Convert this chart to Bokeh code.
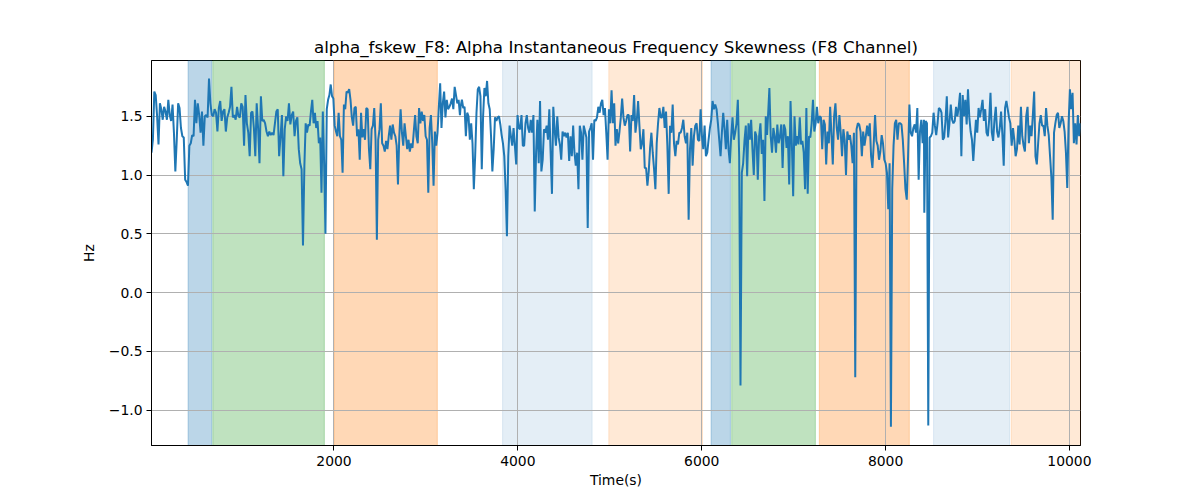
import numpy as np
from bokeh.plotting import figure
from bokeh.models import Range1d, FixedTicker, CustomJSTickFormatter, BoxAnnotation
from bokeh.embed import file_html
from bokeh.resources import INLINE

# ---- data ----
# time boundaries (s) of each stretch of samples
seg_t0 = [15, 1692, 3377, 5062, 6736, 8421]
seg_t1 = [1678, 3370, 5048, 6711, 8417, 10120]

vals_a = [1.19,1.30,1.71,1.68,1.50,1.26,1.61,1.56,1.47,1.58,1.54,1.47,1.64,1.51,1.46,1.60,1.36,1.03,1.30,1.61,1.57,1.40,1.33,1.32,0.96,0.94,0.91,
          1.25,1.27,1.34,1.33,1.64,1.44,1.61,1.51,1.36,1.54,1.25,1.50,1.51,1.49,1.82,1.61,1.51,
          1.50,1.56,1.53,1.37,1.57,1.63,1.46,1.54,1.56,1.37,1.49,1.53,1.58,1.75,1.49,1.51,1.47,1.58,1.50,1.49,1.61,1.58,1.25,1.68,1.44,1.36,1.16,1.53,1.54,1.40,1.16,1.61,1.40,1.10,1.67,1.46,1.47,1.44,1.37,1.33,1.37,1.34,1.36,1.34,1.44,1.54,1.56,1.16,1.33,1.51,0.99,1.39,1.50,1.46,1.61,1.43,1.51,1.54,1.33,1.46,1.49,1.22,1.10,1.05,0.40,1.08]
vals_b = [1.44,1.36,1.43,1.42,1.54,1.64,1.44,1.53,1.40,1.46,1.27,1.32,0.85,1.54,1.10,0.50,
          1.56,1.64,1.68,1.77,1.67,1.65,1.42,
          1.37,1.33,1.53,1.33,1.30,1.02,1.60,1.56,1.71,1.70,1.73,1.64,1.49,1.42,1.57,1.58,1.33,1.39,1.13,1.53,1.32,1.39,1.30,1.57,1.56,1.22,1.05,1.39,1.42,1.57,1.30,0.45,1.30,1.39,1.61,1.27,1.25,1.20,1.29,1.22,1.33,1.42,1.30,1.43,1.36,1.33,1.25,0.92,1.33,1.56,1.36,1.25,1.44,1.33,1.22,1.30,1.20,1.27,1.23,1.37,1.51,1.33,1.27,1.57,1.44,1.54,1.46,1.51,1.33,1.30,0.85,1.40,1.51,1.27,0.91,1.37,1.25,1.36,
          1.58,1.78,1.40,1.61,1.71,1.49,1.64,1.56,1.58,1.61,1.65,1.56,1.75,1.68,1.61,1.64,1.51]
vals_c = [1.58,1.64,1.57,1.58,1.33,1.53,1.50,1.30,1.44,1.27,0.88,1.16,1.53,1.73,1.75,1.67,1.05,1.50,1.74,1.67,1.80,1.61,1.56,1.33,1.03,1.22,1.49,1.46,1.49,1.50,1.43,1.34,
          1.27,1.16,0.88,0.48,1.16,1.42,1.33,1.25,1.40,1.25,1.09,1.51,1.40,1.39,1.51,1.25,1.25,1.44,1.51,1.40,1.36,1.47,1.36,1.51,0.69,1.19,1.47,1.10,1.63,1.03,1.13,1.39,1.36,1.42,1.30,1.56,1.19,0.84,1.58,1.39,1.25,1.50,1.32,1.26,1.13,1.37,1.33,1.36,1.32,1.36,1.12,1.33,1.16,1.42,1.19,1.08,1.19,0.88,1.42,1.36,1.13,1.42,1.37,1.32,0.55,1.37,1.40,1.44,1.13,
          1.47,1.46,1.49,1.58,1.53,1.61,1.64,1.51,1.57,1.36,1.13,1.56,
          1.44,1.72,1.44,1.61]
vals_d = [1.25,1.39,1.27,1.37,1.49,1.65,1.49,1.42,1.46,1.51,1.51,1.20,1.51,1.46,1.68,1.36,1.46,1.63,1.42,1.22,1.27,1.39,1.06,1.06,0.91,1.03,1.23,1.36,1.19,1.05,0.88,1.27,1.44,1.57,1.49,1.49,1.58,1.40,1.54,1.25,0.84,1.42,1.36,1.60,1.27,1.16,1.29,1.26,1.36,1.36,1.40,1.47,1.33,1.27,1.36,0.62,1.22,1.40,1.08,1.33,1.42,1.44,1.30,1.29,1.56,1.33,
          1.22,1.42,1.16,1.19,1.30,1.40,1.47,
          1.63,1.56,1.60,1.56,1.44,1.30,1.16,1.36,1.53,1.39,1.22,1.47,1.22,1.10,
          1.33,1.49,1.30,1.36,1.44,1.64,1.16,-0.79,1.02,1.10,1.29,1.42,0.99,1.44,1.30,1.47,1.22,1.00,1.37,1.33,0.96,1.33,1.44,1.18,1.30,0.78,1.50,1.34]
vals_e = [1.74,1.33,1.19,1.40,1.33,1.19,1.43,1.27,1.33,1.43,1.06,1.43,1.39,1.23,1.33,0.92,1.63,1.27,0.82,1.50,1.25,1.33,1.26,1.49,1.26,1.29,1.19,0.88,1.57,0.84,1.33,1.32,1.44,1.64,1.37,
          1.44,1.58,1.44,
          1.50,1.49,1.22,1.47,1.43,1.09,1.37,1.27,1.58,1.34,1.09,1.50,1.61,1.40,1.30,1.51,1.36,1.16,1.39,1.30,1.00,1.37,1.30,1.34,1.25,1.10,1.36,-0.72,1.39,1.44,1.43,1.37,1.16,1.37,1.25,1.33,1.42,1.33,1.44,1.16,1.06,1.27,1.51,1.29,1.25,1.13,1.20,1.34,1.27,1.13,1.10,1.02,0.71,1.10,-1.14,0.88,1.25,1.44,1.47,1.30,1.44,1.44,1.43,1.30,1.10,0.88,0.79,1.16,
          1.60,1.36,1.33,1.40,1.43,1.36,1.57,0.96,1.37,1.47,1.27,1.47]
vals_f = [0.68,1.46,1.44,-1.13,1.32,1.33,1.36,
          1.53,1.42,1.34,1.44,1.57,1.56,1.53,1.30,1.32,1.46,1.67,1.32,1.44,1.60,1.47,1.44,1.46,1.58,1.50,1.58,1.70,1.16,1.68,1.50,1.64,1.43,1.73,1.49,1.37,1.30,1.12,1.30,1.47,1.36,1.57,1.49,1.56,1.64,1.46,1.56,1.36,1.33,1.47,1.70,1.36,1.29,1.47,1.58,1.37,1.32,1.40,1.54,1.34,1.08,1.57,1.63,1.56,1.49,
          1.44,1.25,1.40,1.30,1.16,1.22,1.42,1.26,1.58,1.33,1.25,1.20,1.50,1.58,1.27,1.42,1.33,1.51,1.71,1.16,1.09,1.27,1.44,1.51,1.42,1.42,1.33,1.57,1.42,1.34,1.16,0.98,0.62,1.36,1.44,1.51,1.53,1.40,1.44,1.50,1.46,1.37,1.19,0.89,1.44,1.73,1.56,1.70,1.27,1.44,1.26,1.51,1.33,1.44]

# shaded intervals
span_start = [413, 682, 2000, 3834, 4989, 6102, 6326, 7279, 8522, 9366]
span_end = [671, 1895, 3124, 4808, 6008, 6312, 7236, 8258, 9348, 10120]
span_color = ["#1f77b4", "#2ca02c", "#ff7f0e", "#1f77b4", "#ff7f0e",
              "#1f77b4", "#2ca02c", "#ff7f0e", "#1f77b4", "#ff7f0e"]
span_alpha = [0.3, 0.3, 0.3, 0.12, 0.17, 0.3, 0.3, 0.3, 0.12, 0.17]

x_ticks = [2000, 4000, 6000, 8000, 10000]
y_ticks = [-1.0, -0.5, 0.0, 0.5, 1.0, 1.5]

title = "alpha_fskew_F8: Alpha Instantaneous Frequency Skewness (F8 Channel)"

# ---- assemble series ----
segments = [vals_a, vals_b, vals_c, vals_d, vals_e, vals_f]
t_all, v_all = [], []
for t0, t1, vals in zip(seg_t0, seg_t1, segments):
    t_all.extend(np.linspace(t0, t1, len(vals)).tolist())
    v_all.extend(vals)

FONT = "DejaVu Sans"

p = figure(width=1184, height=492, output_backend="svg", toolbar_location=None,
           x_range=Range1d(15, 10120), y_range=Range1d(-1.30, 1.974),
           min_border_left=151, min_border_right=104, min_border_top=60, min_border_bottom=47)
p.background_fill_color = "white"
p.border_fill_color = "white"
p.outline_line_color = "black"
p.outline_line_width = 1
p.outline_line_alpha = 1

p.title.text = title
p.title.align = "center"
p.title.text_font = FONT
p.title.text_font_size = "16.7px"
p.title.text_font_style = "normal"
p.title.text_color = "black"
p.title.standoff = 8

for s0, s1, c, a in zip(span_start, span_end, span_color, span_alpha):
    p.add_layout(BoxAnnotation(left=s0, right=s1, fill_color=c, fill_alpha=a,
                               line_color=c, line_alpha=a, line_width=1, level="image"))

p.line(t_all, v_all, line_color="#1f77b4", line_width=2)

p.xaxis.ticker = FixedTicker(ticks=x_ticks)
p.yaxis.ticker = FixedTicker(ticks=y_ticks)
p.yaxis.formatter = CustomJSTickFormatter(code="return tick.toFixed(1).replace('-', '\u2212');")
p.xgrid.ticker = FixedTicker(ticks=x_ticks)
p.ygrid.ticker = FixedTicker(ticks=y_ticks)
for g in (p.xgrid, p.ygrid):
    g.grid_line_color = "#b0b0b0"
    g.grid_line_width = 1

p.xaxis.axis_label = "Time(s)"
p.yaxis.axis_label = "Hz"
for ax in (p.xaxis, p.yaxis):
    ax.axis_label_text_font = FONT
    ax.axis_label_text_font_size = "13.9px"
    ax.axis_label_text_font_style = "normal"
    ax.axis_label_text_color = "black"
    ax.major_label_text_font = FONT
    ax.major_label_text_font_size = "13.9px"
    ax.major_label_text_color = "black"
    ax.major_tick_out = 5
    ax.major_tick_in = 0
    ax.minor_tick_out = 0
    ax.minor_tick_in = 0
    ax.axis_line_color = "black"
    ax.major_tick_line_color = "black"
p.xaxis.major_label_standoff = 5
p.yaxis.major_label_standoff = 4
p.xaxis.axis_label_standoff = 3
p.yaxis.axis_label_standoff = 9

open("out.html", "w").write(file_html(p, INLINE))
